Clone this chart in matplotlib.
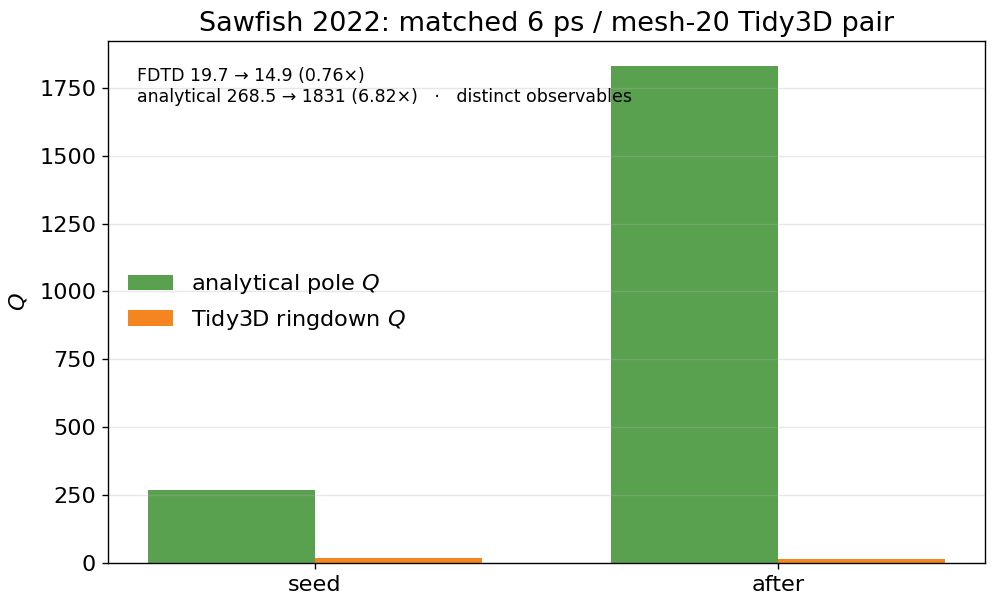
import matplotlib.pyplot as plt
import numpy as np

# data
groups = ['seed', 'after']
analytical_q = [268.5, 1831]
tidy3d_q = [19.7, 14.9]
note = ('FDTD 19.7 \u2192 14.9 (0.76\u00d7)\n'
        'analytical 268.5 \u2192 1831 (6.82\u00d7)   \u00b7   distinct observables')

fig, ax = plt.subplots(figsize=(8, 608 / 124), dpi=124)
fig.subplots_adjust(left=0.109, right=0.993, top=0.9326, bottom=0.074)

x = np.arange(len(groups))
w = 0.36
ax.bar(x - w / 2, analytical_q, w, color='#59a14f', label='analytical pole $Q$')
ax.bar(x + w / 2, tidy3d_q, w, color='#f5861f', label='Tidy3D ringdown $Q$')

ax.set_xticks(x)
ax.set_xticklabels(groups, fontsize=13)
ax.tick_params(axis='y', labelsize=13)
ax.set_ylabel('$Q$', fontsize=13, labelpad=6)
ax.set_title('Sawfish 2022: matched 6 ps / mesh-20 Tidy3D pair', fontsize=15.75)
ax.grid(axis='y', alpha=0.3)
ax.legend(loc='center left', frameon=False, fontsize=13)
ax.text(0.033, 0.95, note, transform=ax.transAxes, va='top', ha='left', fontsize=10.1)

fig.savefig('out.png', dpi=124)
